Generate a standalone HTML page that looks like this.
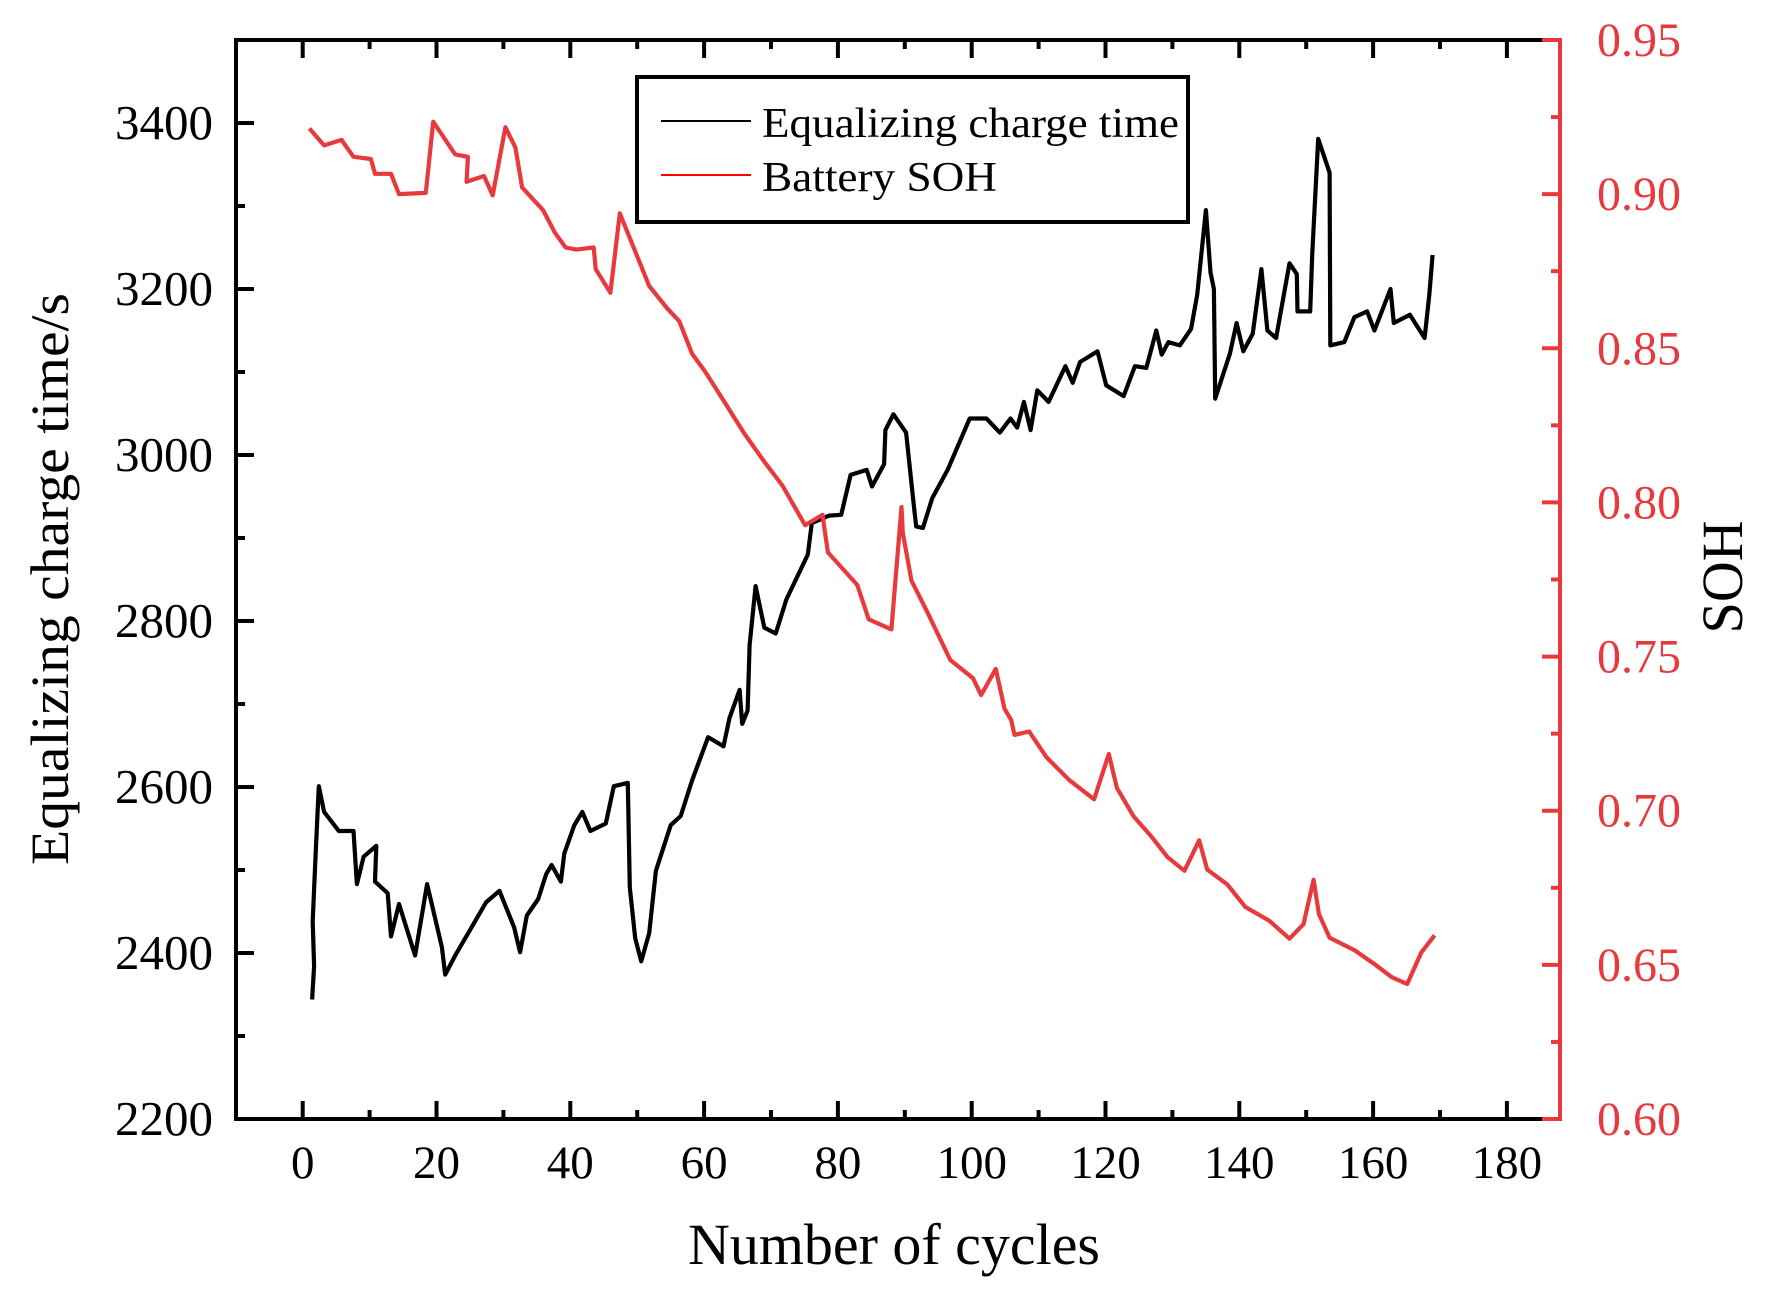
<!DOCTYPE html>
<html><head><meta charset="utf-8"><style>
html,body{margin:0;padding:0;background:#fff}
svg{display:block;font-family:"Liberation Serif","Times New Roman",serif}
</style></head><body>
<svg id="chart" width="1770" height="1293" viewBox="0 0 1770 1293" xmlns="http://www.w3.org/2000/svg">
<g id="plot"></g>
<g id="axes"></g>
<g id="legend">
  <rect x="637" y="77" width="551" height="145" fill="#fff" stroke="#000" stroke-width="4"/>
  <line x1="661" y1="121" x2="751" y2="121" stroke="#000" stroke-width="2"/>
  <text x="762" y="137" font-size="42" textLength="417" lengthAdjust="spacingAndGlyphs">Equalizing charge time</text>
  <line x1="661" y1="175" x2="751" y2="175" stroke="#ff0000" stroke-width="2"/>
  <text x="762" y="191" font-size="42" textLength="235" lengthAdjust="spacingAndGlyphs">Battery SOH</text>
</g>
<text x="894" y="1264" font-size="58" text-anchor="middle" textLength="412" lengthAdjust="spacingAndGlyphs">Number of cycles</text>
<text transform="translate(68,579) rotate(-90)" font-size="54" text-anchor="middle" textLength="572" lengthAdjust="spacingAndGlyphs">Equalizing charge time/s</text>
<text transform="translate(1742,577) rotate(-90)" font-size="58" text-anchor="middle" textLength="113" lengthAdjust="spacingAndGlyphs">SOH</text>
</svg>
<script>
const chargeCycles=[1.4,1.7,1.5,1.9,2.4,3.2,5.4,7.6,8.1,9.1,11.0,10.8,12.7,13.2,14.4,16.8,18.6,20.8,21.3,22.8,27.4,29.4,31.6,32.5,33.5,35.2,36.4,37.2,38.6,39.1,40.6,41.8,43.0,45.3,46.5,48.6,48.9,49.7,50.6,51.8,52.8,55.0,56.5,58.2,60.6,62.9,63.8,65.3,65.7,66.5,66.8,67.7,69.0,70.7,72.3,75.5,76.1,78.7,80.5,81.9,84.3,85.1,86.9,87.1,88.3,90.2,91.4,91.7,92.7,94.1,96.4,99.7,102.2,104.2,105.8,106.8,107.8,108.8,109.8,111.5,114.0,115.1,116.2,118.8,120.1,122.7,124.4,126.1,127.6,128.4,129.4,131.1,132.8,133.7,135.0,135.7,136.2,136.4,138.6,139.6,140.6,142.0,143.3,144.2,145.5,147.5,148.6,148.7,150.6,150.9,151.8,153.5,153.6,155.7,157.2,159.1,160.2,162.6,163.1,165.5,167.7,168.4,168.9];
const chargeTime=[2344,2384,2438,2513,2601,2570,2547,2547,2483,2516,2529,2486,2472,2420,2459,2397,2483,2407,2374,2397,2461,2475,2431,2401,2445,2465,2495,2506,2486,2520,2554,2570,2547,2556,2601,2605,2479,2418,2390,2424,2499,2554,2565,2608,2660,2649,2683,2717,2676,2692,2771,2842,2792,2785,2826,2880,2918,2927,2928,2976,2982,2962,2989,3030,3049,3027,2935,2914,2912,2948,2982,3044,3044,3027,3044,3033,3064,3030,3078,3064,3107,3087,3112,3125,3084,3071,3107,3105,3150,3121,3136,3132,3152,3193,3295,3220,3200,3068,3122,3159,3125,3146,3224,3150,3141,3231,3218,3173,3173,3241,3381,3340,3132,3136,3166,3173,3150,3200,3159,3169,3141,3193,3241];
const sohCycles=[1.0,3.2,5.8,7.6,10.2,10.8,13.2,14.4,18.4,19.5,22.8,24.7,24.5,27.1,28.4,30.3,31.8,32.8,35.9,37.7,39.3,40.9,43.5,43.8,46.0,47.4,51.8,54.5,56.3,58.2,60.1,63.1,66.0,69.0,71.7,75.1,77.7,78.5,82.9,84.6,88.0,89.5,89.7,91.0,93.4,96.8,100.2,101.4,103.6,104.9,105.9,106.4,108.6,111.2,114.6,118.3,120.5,121.7,124.2,126.9,129.3,131.8,134.0,135.2,138.2,140.9,144.5,147.5,149.6,151.1,151.9,153.5,157.2,160.1,162.8,165.1,167.2,169.2];
const sohValues=[0.9213,0.9158,0.9176,0.9121,0.9114,0.9066,0.9066,0.9000,0.9004,0.9235,0.9129,0.9121,0.9040,0.9059,0.8996,0.9217,0.9151,0.9022,0.8949,0.8875,0.8827,0.8820,0.8827,0.8757,0.8680,0.8938,0.8702,0.8629,0.8588,0.8482,0.8426,0.8324,0.8224,0.8132,0.8055,0.7926,0.7960,0.7838,0.7732,0.7621,0.7588,0.7985,0.7901,0.7746,0.7643,0.7489,0.7430,0.7375,0.7460,0.7331,0.7294,0.7246,0.7257,0.7173,0.7099,0.7037,0.7184,0.7074,0.6982,0.6915,0.6849,0.6805,0.6904,0.6809,0.6761,0.6688,0.6643,0.6585,0.6632,0.6776,0.6665,0.6588,0.6548,0.6504,0.6460,0.6438,0.6540,0.6596];
const xTicks=[0,20,40,60,80,100,120,140,160,180];
const leftTicks=[2200,2400,2600,2800,3000,3200,3400];
const rightTicks=["0.60","0.65","0.70","0.75","0.80","0.85","0.90","0.95"];

const NS="http://www.w3.org/2000/svg";
const L=236,R=1560,T=40,B=1119;
const X0=302.7,XS=6.69;
const RED="#e8393d";
function xs(v){return X0+v*XS;}
function yl(v){return B-(v-2200)/1300*(B-T);}
function yr(v){return B-(v-0.60)/0.35*(B-T);}
function mk(tag,attrs,parent){const e=document.createElementNS(NS,tag);for(const k in attrs)e.setAttribute(k,attrs[k]);parent.appendChild(e);return e;}
const plot=document.getElementById('plot'),axes=document.getElementById('axes');

let d1=chargeCycles.map((c,i)=>(i?'L':'M')+xs(c).toFixed(1)+','+yl(chargeTime[i]).toFixed(1)).join('');
const p1=mk('path',{d:d1,fill:'none',stroke:'#000','stroke-width':4.2,'stroke-linejoin':'round'},plot);


let d2=sohCycles.map((c,i)=>(i?'L':'M')+xs(c).toFixed(1)+','+yr(sohValues[i]).toFixed(1)).join('');
const p2=mk('path',{d:d2,fill:'none',stroke:RED,'stroke-width':4.2,'stroke-linejoin':'round'},plot);



const fr=mk('path',{d:`M${R},${T}L${L},${T}L${L},${B}L${R},${B}`,fill:'none',stroke:'#000','stroke-width':4},axes);


const ra=mk('line',{x1:R,y1:T-2,x2:R,y2:B+2,stroke:RED,'stroke-width':4},axes);



for(let v=0;v<=190;v+=10){
  const maj=v%20===0, len=maj?18:9, x=xs(v);
  if(x>R-3)continue;
  const tb=mk('line',{x1:x,y1:B,x2:x,y2:B-len,stroke:'#000','stroke-width':4},axes);
  
  
  const tt=mk('line',{x1:x,y1:T,x2:x,y2:T+len,stroke:'#000','stroke-width':4},axes);
  
  
}
xTicks.forEach(v=>{
  const t=mk('text',{x:xs(v),y:1178,'font-size':47,'text-anchor':'middle'},axes);
  t.textContent=v;
  
  
});
for(let v=2200;v<=3500;v+=100){
  const maj=v%200===0,len=maj?18:9,y=yl(v);
  const tk=mk('line',{x1:L,y1:y,x2:L+len,y2:y,stroke:'#000','stroke-width':4},axes);
  
  
}
leftTicks.forEach(v=>{
  const t=mk('text',{x:213,y:yl(v)+16,'font-size':49,'text-anchor':'end'},axes);
  t.textContent=v;
  
  
});
for(let i=0;i<=14;i++){
  const v=0.60+i*0.025,maj=i%2===0,len=maj?18:9,y=yr(v);
  const tk=mk('line',{x1:R,y1:y,x2:R-len,y2:y,stroke:RED,'stroke-width':4},axes);
  
  
}
rightTicks.forEach(s=>{
  const t=mk('text',{x:1597,y:yr(parseFloat(s))+16,'font-size':48,fill:RED},axes);
  t.textContent=s;
  
  
});
</script>
</body></html>
